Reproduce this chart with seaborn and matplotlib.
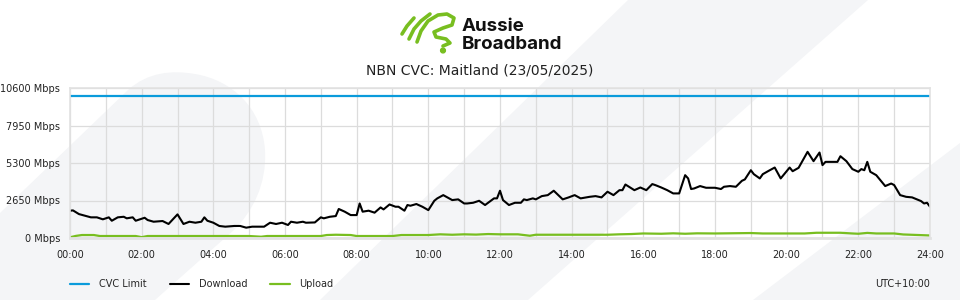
import numpy as np
import pandas as pd
import matplotlib
matplotlib.use("Agg")
import matplotlib.pyplot as plt
from matplotlib.patches import Polygon, PathPatch, Circle
from matplotlib.path import Path
import seaborn as sns

# ---- data ----
title = "NBN CVC: Maitland (23/05/2025)"
cvc_limit = 10000
y_ticks = [0, 2650, 5300, 7950, 10600]
x_tick_labels = ["00:00", "02:00", "04:00", "06:00", "08:00", "10:00", "12:00",
                 "14:00", "16:00", "18:00", "20:00", "22:00", "24:00"]

dl_times = ["00:00", "00:05", "00:15", "00:35", "00:45", "00:55", "01:05", "01:10", "01:20", "01:30",
            "01:35", "01:45", "01:50", "02:05", "02:10", "02:20", "02:35", "02:45", "03:00", "03:10",
            "03:20", "03:30", "03:40", "03:45", "03:50", "04:00", "04:10", "04:20", "04:35", "04:45",
            "04:55", "05:05", "05:20", "05:25", "05:35", "05:45", "05:55", "06:05", "06:10", "06:20",
            "06:30", "06:35", "06:50", "07:00", "07:05", "07:15", "07:25", "07:30", "07:40", "07:50",
            "08:00", "08:05", "08:10", "08:20", "08:30", "08:40", "08:45", "08:55", "09:05", "09:10",
            "09:20", "09:25", "09:30", "09:40", "09:50", "10:00", "10:10", "10:15", "10:25", "10:35",
            "10:40", "10:50", "11:00", "11:05", "11:15", "11:25", "11:35", "11:50", "11:55", "12:00",
            "12:05", "12:15", "12:25", "12:35", "12:40", "12:45", "12:55", "13:00", "13:10", "13:20",
            "13:30", "13:45", "13:55", "14:05", "14:15", "14:30", "14:40", "14:50", "15:00", "15:10",
            "15:20", "15:25", "15:30", "15:45", "15:55", "16:05", "16:15", "16:20", "16:30", "16:40",
            "16:50", "17:00", "17:10", "17:15", "17:20", "17:25", "17:35", "17:45", "18:00", "18:10",
            "18:15", "18:25", "18:35", "18:45", "18:50", "19:00", "19:05", "19:15", "19:20", "19:30",
            "19:40", "19:50", "20:05", "20:10", "20:20", "20:35", "20:45", "20:55", "21:00", "21:05",
            "21:25", "21:30", "21:40", "21:50", "22:00", "22:05", "22:10", "22:15", "22:20", "22:30",
            "22:45", "22:55", "23:00", "23:10", "23:20", "23:30", "23:45", "23:50", "23:55", "24:00"]
dl_mbps = [1930, 1950, 1690, 1460, 1460, 1320, 1460, 1220, 1460, 1500,
           1390, 1460, 1220, 1430, 1270, 1150, 1200, 990, 1670, 990,
           1150, 1080, 1150, 1460, 1220, 1080, 850, 800, 850, 850,
           730, 800, 800, 800, 1080, 990, 1080, 920, 1150, 1080,
           1150, 1080, 1100, 1460, 1390, 1500, 1550, 2050, 1860, 1620,
           1620, 2440, 1860, 1930, 1790, 2160, 2020, 2370, 2210, 2210,
           1930, 2330, 2280, 2400, 2210, 1970, 2630, 2800, 3030, 2800,
           2680, 2730, 2440, 2440, 2490, 2630, 2330, 2800, 2800, 3340,
           2680, 2330, 2490, 2490, 2730, 2680, 2800, 2730, 2960, 3030,
           3340, 2730, 2870, 3030, 2800, 2910, 2960, 2870, 3270, 3030,
           3380, 3380, 3780, 3380, 3570, 3380, 3810, 3740, 3570, 3380,
           3150, 3150, 4440, 4210, 3460, 3500, 3670, 3550, 3550, 3460,
           3620, 3670, 3620, 4040, 4140, 4790, 4510, 4210, 4510, 4750,
           4980, 4210, 4980, 4720, 4960, 6090, 5430, 6040, 5150, 5380,
           5380, 5780, 5430, 4870, 4680, 4870, 4790, 5380, 4680, 4440,
           3670, 3850, 3740, 3030, 2910, 2870, 2610, 2440, 2490, 2210]

ul_times = ["00:00", "00:10", "00:20", "00:40", "00:50", "01:40", "01:50", "02:00", "02:10", "05:00",
            "05:20", "05:30", "07:00", "07:10", "07:25", "07:50", "08:00", "09:00", "09:15", "10:00",
            "10:20", "10:40", "11:00", "11:20", "11:40", "12:00", "12:30", "12:50", "13:00", "15:00",
            "15:20", "15:40", "16:00", "16:30", "16:50", "17:10", "17:30", "18:00", "19:00", "19:20",
            "20:30", "20:50", "21:30", "21:50", "22:00", "22:15", "22:30", "23:00", "23:15", "24:00"]
ul_mbps = [50, 150, 210, 210, 140, 140, 140, 60, 140, 140,
           90, 140, 140, 210, 230, 210, 140, 140, 210, 210,
           260, 230, 260, 240, 280, 260, 260, 160, 230, 230,
           260, 280, 320, 300, 330, 300, 330, 320, 350, 320,
           320, 370, 370, 320, 300, 360, 320, 320, 250, 180]


def to_hours(t):
    h, m = t.split(":")
    return int(h) + int(m) / 60


dl = pd.DataFrame({"hour": [to_hours(t) for t in dl_times], "mbps": dl_mbps})
ul = pd.DataFrame({"hour": [to_hours(t) for t in ul_times], "mbps": ul_mbps})
cvc = pd.DataFrame({"hour": [0, 24], "mbps": [cvc_limit, cvc_limit]})

sns.set_style("white")
plt.rcParams["font.family"] = ["DejaVu Sans"]

fig = plt.figure(figsize=(9.6, 3.0), dpi=100)
fig.patch.set_facecolor("white")

# decorative background shapes (pixel coords, y down)
bg = fig.add_axes([0, 0, 1, 1], zorder=-5)
bg.set_xlim(0, 960)
bg.set_ylim(300, 0)
bg.axis("off")
shade = "#f4f5f7"
leaf = Path([(0, 300), (0, 213), (128, 90),
             (148, 72), (172, 70), (195, 74),
             (232, 80), (262, 108), (265, 150),
             (267, 185), (252, 212), (234, 230),
             (155, 300), (0, 300)],
            [Path.MOVETO, Path.LINETO, Path.LINETO,
             Path.CURVE4, Path.CURVE4, Path.CURVE4,
             Path.CURVE4, Path.CURVE4, Path.CURVE4,
             Path.CURVE4, Path.CURVE4, Path.CURVE4,
             Path.LINETO, Path.CLOSEPOLY])
bg.add_patch(PathPatch(leaf, fc=shade, ec="none"))
bg.add_patch(Polygon([(320, 300), (528, 300), (868, 0), (628, 0)], fc=shade, ec="none"))
bg.add_patch(Polygon([(753, 300), (960, 300), (960, 143)], fc=shade, ec="none"))

# logo
green = "#78be20"
strokes = [
    [(402, 34), (407, 26), (414, 18)],
    [(409, 39), (414, 29), (421, 21), (430, 14)],
    [(417, 42), (421, 31), (428, 21), (438, 15), (447, 14), (454, 18), (452, 25),
     (443, 28), (434, 32), (436, 37), (446, 39), (450, 43), (443, 46)],
]
for s in strokes:
    xs, ys = zip(*s)
    bg.plot(xs, ys, color=green, lw=2.6, solid_capstyle="round", solid_joinstyle="round")
bg.add_patch(Circle((443, 50.5), 2.4, color=green))
bg.text(462, 31, "Aussie", fontsize=13.5, fontweight="bold", family=["Inter", "DejaVu Sans"],
        color="#111111", va="baseline", ha="left")
bg.text(462, 49, "Broadband", fontsize=13.5, fontweight="bold", family=["Inter", "DejaVu Sans"],
        color="#111111", va="baseline", ha="left")

# main chart
ax = fig.add_axes([70 / 960, 62 / 300, 860 / 960, 150 / 300])
ax.set_facecolor("none")
sns.lineplot(data=cvc, x="hour", y="mbps", ax=ax, color="#0a9bdb", lw=1.6, label="CVC Limit")
sns.lineplot(data=dl, x="hour", y="mbps", ax=ax, color="black", lw=1.5, label="Download")
sns.lineplot(data=ul, x="hour", y="mbps", ax=ax, color=green, lw=1.6, label="Upload")

ax.set_xlim(0, 24)
ax.set_ylim(0, 10600)
ax.set_xticks(range(0, 25, 2))
ax.set_xticklabels(x_tick_labels)
ax.set_xticks(range(0, 25), minor=True)
ax.set_yticks(y_ticks)
ax.set_yticklabels([f"{v} Mbps" for v in y_ticks])
ax.grid(True, which="both", color="#dcdcdc", lw=0.9)
ax.tick_params(axis="both", which="both", length=0, labelsize=7, colors="#222222")
ax.tick_params(axis="y", pad=7)
ax.tick_params(axis="x", pad=9)
ax.set_xlabel("")
ax.set_ylabel("")
for sp in ax.spines.values():
    sp.set_color("#e2e2e2")
    sp.set_linewidth(1.2)
ax.spines["bottom"].set_linewidth(2)

handles, labels = ax.get_legend_handles_labels()
ax.get_legend().remove()
fig.legend(handles, labels, loc="center left", bbox_to_anchor=(70 / 960, 1 - 284 / 300),
           ncol=3, frameon=False, fontsize=7, handlelength=2.0, handletextpad=1.0,
           columnspacing=2.35, borderpad=0, borderaxespad=0)

fig.text(0.5, 1 - 70 / 300, title, ha="center", va="center", fontsize=10, color="#222222")
fig.text(930 / 960, 1 - 284 / 300, "UTC+10:00", ha="right", va="center", fontsize=7, color="#222222")

fig.savefig("out.png", dpi=100, facecolor="white")
